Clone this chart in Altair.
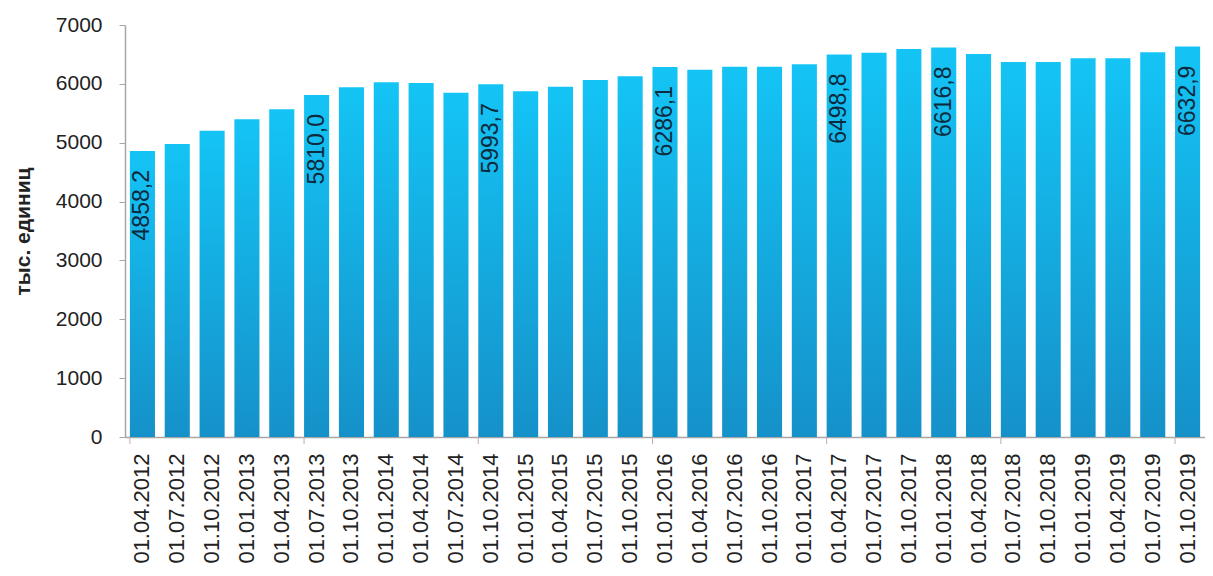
import altair as alt
import pandas as pd

dates = [
    "01.04.2012", "01.07.2012", "01.10.2012", "01.01.2013", "01.04.2013",
    "01.07.2013", "01.10.2013", "01.01.2014", "01.04.2014", "01.07.2014",
    "01.10.2014", "01.01.2015", "01.04.2015", "01.07.2015", "01.10.2015",
    "01.01.2016", "01.04.2016", "01.07.2016", "01.10.2016", "01.01.2017",
    "01.04.2017", "01.07.2017", "01.10.2017", "01.01.2018", "01.04.2018",
    "01.07.2018", "01.10.2018", "01.01.2019", "01.04.2019", "01.07.2019",
    "01.10.2019",
]
values = [
    4858.2, 4978, 5204, 5397, 5567,
    5810.0, 5941, 6026, 6014, 5850,
    5993.7, 5873, 5951, 6065, 6128,
    6286.1, 6240, 6291, 6291, 6332,
    6498.8, 6529, 6592, 6616.8, 6507,
    6371, 6371, 6433, 6433, 6535,
    6632.9,
]
labels = [
    "4858,2", "", "", "", "",
    "5810,0", "", "", "", "",
    "5993,7", "", "", "", "",
    "6286,1", "", "", "", "",
    "6498,8", "", "", "6616,8", "",
    "", "", "", "", "",
    "6632,9",
]
tick_dates = ["01.04.2012", "01.07.2013", "01.10.2014", "01.01.2016",
              "01.04.2017", "01.07.2018", "01.10.2019"]
y_ticks = [0, 1000, 2000, 3000, 4000, 5000, 6000, 7000]

df = pd.DataFrame({"date": dates, "value": values, "label": labels})
ticks_df = pd.DataFrame({"date": tick_dates})
lab_df = df[df["label"] != ""]

x_scale = alt.Scale(domain=dates, paddingInner=0.28, paddingOuter=0.14)
y_scale = alt.Scale(domain=[0, 7000])

grad = alt.Gradient(
    gradient="linear",
    x1=0, y1=0, x2=0, y2=1,
    stops=[alt.GradientStop(color="#14C4F5", offset=0),
           alt.GradientStop(color="#1591C9", offset=1)],
)

bars = alt.Chart(df).mark_bar(color=grad).encode(
    x=alt.X("date:N", scale=x_scale, sort=dates,
            axis=alt.Axis(title=None, labelAngle=270, labelFont="Liberation Sans",
                          labelFontSize=22, labelColor="#222222", labelPadding=16,
                          ticks=False, domainColor="#A6A6A6", domainWidth=1.5)),
    y=alt.Y("value:Q", scale=y_scale,
            axis=alt.Axis(title="тыс. единиц", titleFont="Liberation Sans",
                          titleFontSize=21, titleFontWeight="bold", titleColor="#222222",
                          titlePadding=22, values=y_ticks, format="d",
                          labelFont="Liberation Sans", labelFontSize=21,
                          labelColor="#222222", labelPadding=17,
                          tickSize=6, tickColor="#A6A6A6", domainColor="#A6A6A6",
                          domainWidth=1.5, grid=False)),
)

xticks = alt.Chart(ticks_df).mark_rule(color="#C8A8A8", strokeWidth=1).encode(
    x=alt.X("date:N", scale=x_scale, sort=dates, bandPosition=0),
    y=alt.value(412),
    y2=alt.value(419),
)

text = alt.Chart(lab_df).mark_text(
    angle=270, align="right", baseline="middle", yOffset=19,
    font="Liberation Sans", fontSize=23, color="#0E2A3E",
).encode(
    x=alt.X("date:N", scale=x_scale, sort=dates),
    y=alt.Y("value:Q", scale=y_scale),
    text="label:N",
)

chart = alt.layer(bars, xticks, text).properties(
    width=1080, height=412, background="white",
    autosize=alt.AutoSizeParams(type="none"),
    padding={"left": 117, "top": 17, "right": 0, "bottom": 131},
).configure_view(stroke=None)

chart.save("out.html", embed_options={"renderer": "svg", "actions": False})
